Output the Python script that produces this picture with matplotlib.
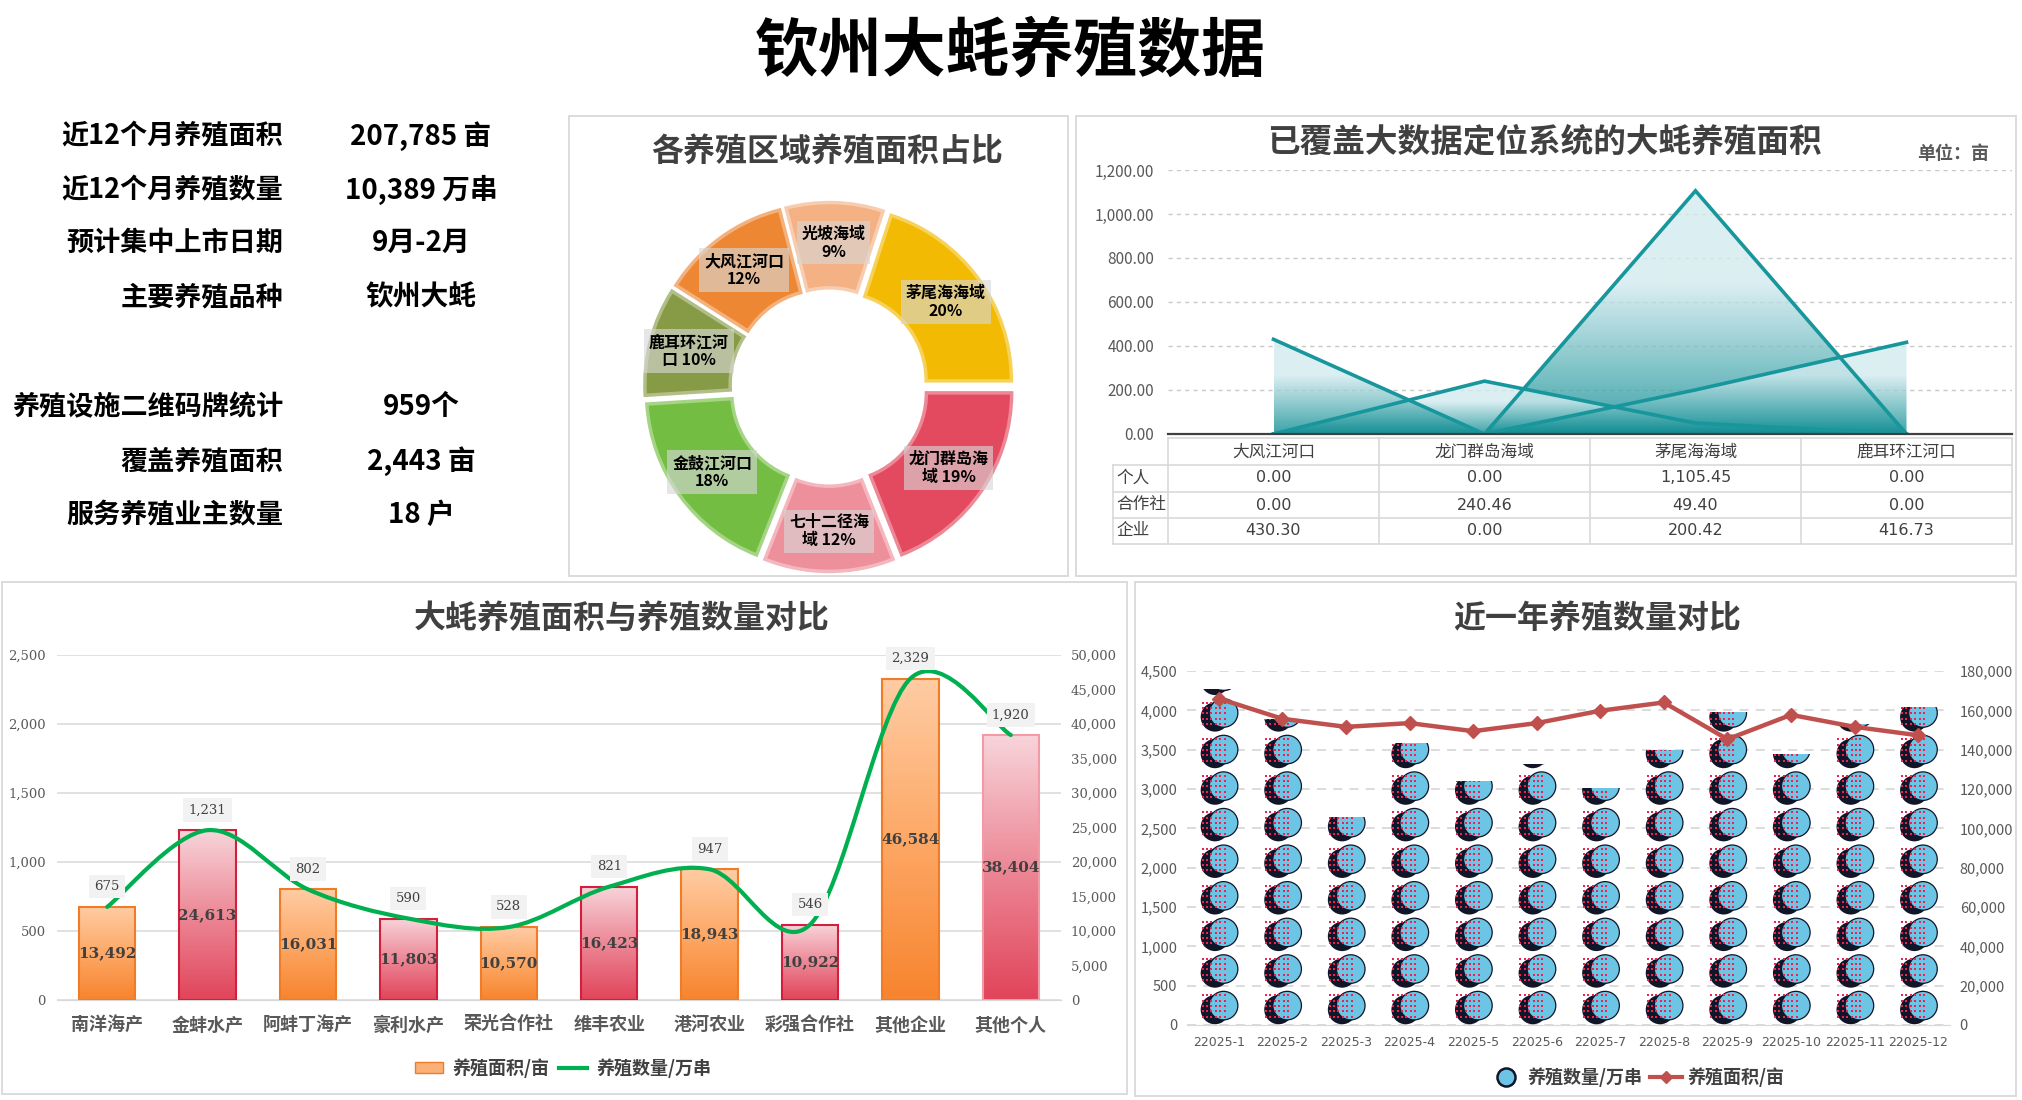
import numpy as np
import matplotlib
matplotlib.use('Agg')
import matplotlib.pyplot as plt
from matplotlib.patches import Rectangle, Ellipse, Polygon, PathPatch, Patch
from matplotlib.path import Path
from matplotlib.lines import Line2D
from matplotlib.colors import LinearSegmentedColormap, to_rgb
from matplotlib.transforms import blended_transform_factory
import matplotlib.ticker as mticker

plt.rcParams['font.family'] = ['Noto Sans CJK SC', 'DejaVu Sans']

# ---------------- data ----------------
summary_labels = ['近12个月养殖面积', '近12个月养殖数量', '预计集中上市日期', '主要养殖品种',
                  '养殖设施二维码牌统计', '覆盖养殖面积', '服务养殖业主数量']
summary_values = ['207,785 亩', '10,389 万串', '9月-2月', '钦州大蚝', '959个', '2,443 亩', '18 户']

pie_regions = ['光坡海域', '茅尾海海域', '龙门群岛海域', '七十二径海域', '金鼓江河口', '鹿耳环江河口', '大风江河口']
pie_shares = [9, 20, 19, 12, 18, 10, 12]
pie_label_text = ['光坡海域\n9%', '茅尾海海域\n20%', '龙门群岛海\n域 19%', '七十二径海\n域 12%',
                  '金鼓江河口\n18%', '鹿耳环江河\n口 10%', '大风江河口\n12%']

cover_regions = ['大风江河口', '龙门群岛海域', '茅尾海海域', '鹿耳环江河口']
cover_series_names = ['个人', '合作社', '企业']
cover_personal = [0.00, 0.00, 1105.45, 0.00]
cover_coop = [0.00, 240.46, 49.40, 0.00]
cover_enterprise = [430.30, 0.00, 200.42, 416.73]

firms = ['南洋海产', '金蚌水产', '阿蚌丁海产', '豪利水产', '荣光合作社', '维丰农业', '港河农业',
         '彩强合作社', '其他企业', '其他个人']
firm_area = [675, 1231, 802, 590, 528, 821, 947, 546, 2329, 1920]
firm_qty = [13492, 24613, 16031, 11803, 10570, 16423, 18943, 10922, 46584, 38404]

months = ['22025-1', '22025-2', '22025-3', '22025-4', '22025-5', '22025-6', '22025-7', '22025-8',
          '22025-9', '22025-10', '22025-11', '22025-12']
month_qty = [4270, 3890, 2650, 3580, 3100, 3320, 3010, 3500, 3980, 3450, 3820, 4040]
month_area = [166000, 155700, 151600, 153500, 149400, 153500, 159800, 164000, 145300, 157700, 151600, 147300]

# ---------------- layout helpers ----------------
W, H = 2022, 1100
fig = plt.figure(figsize=(W / 100, H / 100), dpi=100)
fig.patch.set_facecolor('white')


def rect(x0, y0, x1, y1):
    return [x0 / W, 1 - y1 / H, (x1 - x0) / W, (y1 - y0) / H]


def fx(x):
    return x / W


def fy(y):
    return 1 - y / H


def panel(x0, y0, x1, y1):
    fig.add_artist(Rectangle((fx(x0), fy(y1)), (x1 - x0) / W, (y1 - y0) / H,
                             transform=fig.transFigure, fill=False,
                             edgecolor='#D9D9D9', lw=1.3))


def lighten(c, f):
    r, g, b = to_rgb(c)
    return (r + (1 - r) * f, g + (1 - g) * f, b + (1 - b) * f)


TITLE_C = '#404040'
TICK_C = '#595959'
grad = np.linspace(0, 1, 256).reshape(-1, 1)

# ---------------- main title ----------------
fig.text(fx(1010), fy(52), '钦州大蚝养殖数据', ha='center', va='center',
         fontsize=46, fontweight='heavy', color='black')

# ---------------- summary block ----------------
summary_y = [136, 190, 243, 297, 407, 461, 515]
for lab, val, yy in zip(summary_labels, summary_values, summary_y):
    fig.text(fx(283), fy(yy), lab, ha='right', va='center', fontsize=19.5,
             fontweight='heavy', color='black')
    fig.text(fx(421), fy(yy), val, ha='center', va='center', fontsize=20,
             fontweight='heavy', color='black')

# ---------------- panels ----------------
panel(569, 116, 1068, 576)
panel(1076, 116, 2016, 576)
panel(2, 582, 1127, 1094)
panel(1135, 582, 2016, 1096)

# ---------------- donut ----------------
fig.text(fx(827), fy(152), '各养殖区域养殖面积占比', ha='center', va='center',
         fontsize=23, fontweight='bold', color=TITLE_C)
axp = fig.add_axes(rect(629, 187, 1029, 587))
pie_colors = ['#F4B183', '#F2BA02', '#E34A5F', '#EE909B', '#74BD43', '#879B47', '#EE8734']
start = 104.4
explode = [0.06] * len(pie_shares)
wedges, _ = axp.pie(pie_shares, colors=pie_colors, startangle=start, counterclock=False,
                    explode=explode, radius=1.0,
                    wedgeprops=dict(width=0.49, linewidth=2.5))
for w, c in zip(wedges, pie_colors):
    w.set_edgecolor(lighten(c, 0.35))
total = float(sum(pie_shares))
cum = 0.0
for share, txt in zip(pie_shares, pie_label_text):
    mid = np.deg2rad(start - 360 * (cum + share / 2 / total))
    cum += share / total
    r = 0.83
    axp.text(r * np.cos(mid), r * np.sin(mid), txt, ha='center', va='center',
             fontsize=11.5, fontweight='bold', color='black', linespacing=1.15,
             bbox=dict(boxstyle='square,pad=0.3', fc='#D8D8D8', ec='none', alpha=0.62))
lim = 200 / 174
axp.set_xlim(-lim, lim)
axp.set_ylim(-lim, lim)
axp.set_aspect('equal')
axp.axis('off')

# ---------------- area chart with table ----------------
fig.text(fx(1544), fy(142), '已覆盖大数据定位系统的大蚝养殖面积', ha='center', va='center',
         fontsize=23.5, fontweight='bold', color=TITLE_C)
fig.text(fx(1953), fy(153), '单位：亩', ha='center', va='center', fontsize=13,
         fontweight='bold', color=TICK_C)
axa = fig.add_axes(rect(1168, 170, 2012, 434))
teal_cmap = LinearSegmentedColormap.from_list('teal', [(0, '#0B8C92'), (0.62, '#D3EBEF'), (1, '#D3EBEF')])
xs = np.arange(len(cover_regions))
for vals in [cover_personal, cover_coop, cover_enterprise]:
    verts = [(xs[0], 0)] + list(zip(xs, vals)) + [(xs[-1], 0)]
    poly = Polygon(verts, closed=True, facecolor='none', edgecolor='none')
    axa.add_patch(poly)
    im = axa.imshow(grad, extent=[xs[0], xs[-1], 0, max(vals)], origin='lower', aspect='auto',
                    cmap=teal_cmap, alpha=0.8, zorder=2)
    im.set_clip_path(poly)
    axa.plot(xs, vals, color='#17969C', lw=2.6, zorder=4, solid_joinstyle='miter')
axa.set_xlim(-0.5, len(cover_regions) - 0.5)
axa.set_ylim(0, 1200)
axa.set_yticks(np.arange(0, 1201, 200))
axa.yaxis.set_major_formatter(mticker.FuncFormatter(lambda v, p: f'{v:,.2f}'))
axa.tick_params(axis='y', length=0, labelsize=11, labelcolor=TICK_C, pad=10)
axa.set_xticks([])
axa.yaxis.grid(True, color='#C8C8C8', lw=1, ls=(0, (3, 3)))
axa.set_axisbelow(True)
for s in ['top', 'left', 'right']:
    axa.spines[s].set_visible(False)
axa.spines['bottom'].set_color('#404040')
axa.spines['bottom'].set_linewidth(1.6)
axa.spines['bottom'].set_zorder(5)

# table under the area chart
trans = blended_transform_factory(axa.transData, fig.transFigure)
row_lines = [465, 492, 518, 544]
row_centers = [478, 505, 531]
grid_c = '#D9D9D9'
fig.add_artist(Line2D([-0.5, len(cover_regions) - 0.5], [fy(438), fy(438)], transform=trans,
                      color=grid_c, lw=1.2))
for yl in row_lines:
    fig.add_artist(Line2D([fx(1113), fx(2012)], [fy(yl), fy(yl)], transform=fig.transFigure,
                          color=grid_c, lw=1.2))
for i in range(len(cover_regions) + 1):
    fig.add_artist(Line2D([i - 0.5, i - 0.5], [fy(438), fy(544)], transform=trans,
                          color=grid_c, lw=1.2))
fig.add_artist(Line2D([fx(1113), fx(1113)], [fy(465), fy(544)], transform=fig.transFigure,
                      color=grid_c, lw=1.2))
for i, reg in enumerate(cover_regions):
    fig.text(i, fy(452), reg, transform=trans, ha='center', va='center', fontsize=12,
             color='#404040')
for name, vals, yc in zip(cover_series_names, [cover_personal, cover_coop, cover_enterprise], row_centers):
    fig.text(fx(1116), fy(yc), name, ha='left', va='center', fontsize=12, color='#404040')
    for i, v in enumerate(vals):
        fig.text(i, fy(yc), f'{v:,.2f}', transform=trans, ha='center', va='center',
                 fontsize=11.5, color='#404040', family='DejaVu Sans')

# ---------------- bar + line chart ----------------
fig.text(fx(622), fy(619), '大蚝养殖面积与养殖数量对比', ha='center', va='center',
         fontsize=23, fontweight='bold', color=TITLE_C)
axb = fig.add_axes(rect(57, 655, 1061, 1000))
axb2 = axb.twinx()
axb.set_zorder(2)
axb.patch.set_visible(False)
orange_cmap = LinearSegmentedColormap.from_list('or', ['#F7842E', '#FDA866', '#FFCCA4'])
red_cmap = LinearSegmentedColormap.from_list('rd', ['#E1445A', '#EC8896', '#F8D4DA'])
bw = 0.56
n = len(firms)
for i, (a, q) in enumerate(zip(firm_area, firm_qty)):
    is_red = (i % 2 == 1)
    cmap = red_cmap if is_red else orange_cmap
    edge = '#D2203C' if is_red else '#F07C28'
    if i == n - 1:
        edge = '#F29AA6'
    axb.imshow(grad, extent=[i - bw / 2, i + bw / 2, 0, a], origin='lower', aspect='auto',
               cmap=cmap, zorder=2)
    axb.add_patch(Rectangle((i - bw / 2, 0), bw, a, facecolor='none', edgecolor=edge,
                            lw=1.5, zorder=3))
    axb.text(i, a / 2, f'{q:,}', ha='center', va='center', fontsize=11, fontweight='bold',
             color='#404040', family='DejaVu Serif', zorder=6)
    axb.annotate(f'{a:,}', (i, a), xytext=(0, 14.5), textcoords='offset points', ha='center',
                 va='center', fontsize=9.5, color='#404040', family='DejaVu Serif', zorder=7,
                 bbox=dict(boxstyle='square,pad=0.4', fc='#F2F2F2', ec='none'))


def smooth_path(xv, yv):
    pts = list(zip(xv, yv))
    verts = [pts[0]]
    codes = [Path.MOVETO]
    m = len(pts)
    for k in range(m - 1):
        p0 = pts[k - 1] if k > 0 else pts[k]
        p1 = pts[k]
        p2 = pts[k + 1]
        p3 = pts[k + 2] if k + 2 < m else pts[k + 1]
        c1 = (p1[0] + (p2[0] - p0[0]) / 6, p1[1] + (p2[1] - p0[1]) / 6)
        c2 = (p2[0] - (p3[0] - p1[0]) / 6, p2[1] - (p3[1] - p1[1]) / 6)
        verts += [c1, c2, p2]
        codes += [Path.CURVE4] * 3
    return Path(verts, codes)


axb.set_xlim(-0.5, n - 0.5)
axb.set_ylim(0, 2500)
axb2.set_ylim(0, 50000)
axb.add_patch(PathPatch(smooth_path(np.arange(n), firm_qty), facecolor='none',
                        edgecolor='#00B050', lw=3, transform=axb2.transData, zorder=5,
                        capstyle='round'))
axb.set_yticks(np.arange(0, 2501, 500))
axb2.set_yticks(np.arange(0, 50001, 5000))
axb.yaxis.set_major_formatter(mticker.FuncFormatter(lambda v, p: f'{v:,.0f}'))
axb2.yaxis.set_major_formatter(mticker.FuncFormatter(lambda v, p: f'{v:,.0f}'))
for tl in axb.get_yticklabels() + axb2.get_yticklabels():
    tl.set_family('DejaVu Serif')
axb.tick_params(axis='y', length=0, labelsize=9.5, labelcolor=TICK_C, pad=8)
axb2.tick_params(axis='y', length=0, labelsize=9.5, labelcolor=TICK_C, pad=7)
axb.set_xticks(np.arange(n))
axb.set_xticklabels(firms, fontsize=13, fontweight='bold', color=TICK_C)
axb.tick_params(axis='x', length=0, pad=11)
axb2.grid(False)
axb.yaxis.grid(True, color='#D9D9D9', lw=1.1)
axb2.yaxis.grid(False)
for a_ in (axb, axb2):
    for s in ['top', 'left', 'right']:
        a_.spines[s].set_visible(False)
    a_.spines['bottom'].set_color('#D9D9D9')
axb.set_axisbelow(True)
fig.legend([Patch(facecolor='#FBB07A', edgecolor='#F07C28'), Line2D([], [], color='#00B050', lw=3)],
           ['养殖面积/亩', '养殖数量/万串'], loc='center', bbox_to_anchor=(fx(563), fy(1068)),
           ncol=2, frameon=False, prop=dict(size=13, weight='bold'), labelcolor='#404040',
           handlelength=1.6, handleheight=0.6, columnspacing=0.5, handletextpad=0.5)

# ---------------- pictograph chart ----------------
fig.text(fx(1597), fy(619), '近一年养殖数量对比', ha='center', va='center',
         fontsize=23, fontweight='bold', color=TITLE_C)
axc = fig.add_axes(rect(1187, 671, 1950, 1025))
axc2 = axc.twinx()
m_n = len(months)
axc.set_xlim(-0.5, m_n - 0.5)
axc.set_ylim(0, 4500)
axc2.set_ylim(0, 180000)
U = 465.0  # height of one stacked icon in axis units
navy = '#101528'
blue = '#6CC5E5'
dotc = '#EC2352'
for i, v in enumerate(month_qty):
    clip = Rectangle((i - 0.33, 0), 0.66, v, transform=axc.transData)
    kmax = int(np.ceil(v / U))
    dx_list, dy_list = [], []
    for k in range(kmax):
        y0 = k * U
        e1 = Ellipse((i - 0.06, y0 + 0.42 * U), 0.45, 0.80 * U, facecolor=navy, edgecolor='none', zorder=2)
        e2 = Ellipse((i + 0.075, y0 + 0.53 * U), 0.45, 0.78 * U, facecolor=blue, edgecolor=navy,
                     lw=0.9, zorder=3)
        for e in (e1, e2):
            axc.add_patch(e)
            e.set_clip_path(clip)
        for cx in np.linspace(-0.256, 0.09, 6):
            for cy in np.linspace(0.23, 0.81, 5):
                dx_list.append(i + cx)
                dy_list.append(y0 + cy * U)
    sc = axc.scatter(dx_list, dy_list, s=4.5, color=dotc, marker='s', linewidths=0, zorder=4)
    sc.set_clip_path(clip)
axc2.plot(np.arange(m_n), month_area, color='#C0504D', lw=3.2, marker='D', ms=7, zorder=5)
axc.set_yticks(np.arange(0, 4501, 500))
axc2.set_yticks(np.arange(0, 180001, 20000))
axc.yaxis.set_major_formatter(mticker.FuncFormatter(lambda v, p: f'{v:,.0f}'))
axc2.yaxis.set_major_formatter(mticker.FuncFormatter(lambda v, p: f'{v:,.0f}'))
axc.tick_params(axis='y', length=0, labelsize=10.5, labelcolor=TICK_C, pad=7)
axc2.tick_params(axis='y', length=0, labelsize=10.5, labelcolor=TICK_C, pad=7)
axc.set_xticks(np.arange(m_n))
axc.set_xticklabels(months, fontsize=9, color=TICK_C, family='DejaVu Sans')
axc.tick_params(axis='x', length=0, pad=8)
axc.yaxis.grid(True, color='#D9D9D9', lw=1.3, ls=(0, (5, 4)))
axc.set_axisbelow(True)
for a_ in (axc, axc2):
    for s in ['top', 'left', 'right']:
        a_.spines[s].set_visible(False)
    a_.spines['bottom'].set_color('#D9D9D9')
fig.legend([Line2D([], [], ls='none', marker='o', ms=13, markerfacecolor=blue, markeredgecolor=navy,
                   markeredgewidth=1.8),
            Line2D([], [], color='#C0504D', lw=3, marker='D', ms=6)],
           ['养殖数量/万串', '养殖面积/亩'], loc='center', bbox_to_anchor=(fx(1637), fy(1077)),
           ncol=2, frameon=False, prop=dict(size=13, weight='bold'), labelcolor='#404040',
           handlelength=1.8, columnspacing=0.4, handletextpad=0.3)

fig.savefig('out.png', dpi=100, facecolor='white')
